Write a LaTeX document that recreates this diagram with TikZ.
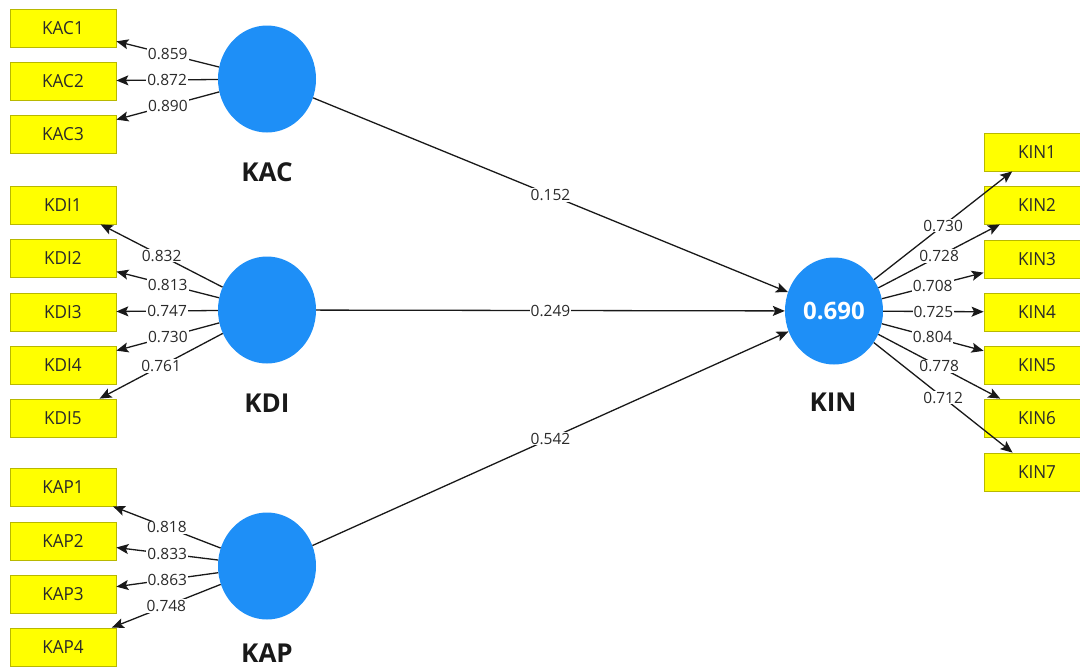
\documentclass[tikz,border=0pt]{standalone}
\usepackage{fontspec}
\setmainfont{Open Sans}
\newfontfamily\boxfont[FakeStretch=0.95]{Open Sans}
\usetikzlibrary{shapes.geometric,arrows.meta}
\definecolor{lvblue}{HTML}{1E8FF7}
\definecolor{boxyellow}{HTML}{FFFF00}
\definecolor{boxedge}{HTML}{B8B800}
\definecolor{txt}{HTML}{2A2A2A}
\begin{document}
\begin{tikzpicture}[x=1pt,y=-1pt,
  ind/.style={draw=boxedge, fill=boxyellow, line width=0.8pt, minimum width=106pt, minimum height=38pt, inner sep=0pt, font=\boxfont\fontsize{18}{20}\selectfont, text=txt},
  lv/.style={ellipse, fill=lvblue, minimum width=98pt, minimum height=107pt, inner sep=0pt},
  lvname/.style={font=\bfseries\fontsize{26}{28}\selectfont, text=black!90},
  lnk/.style={line width=1.3pt, draw=black!90, -{Stealth[length=12pt,width=10pt,inset=2.5pt]}},
  val/.style={midway, fill=white, inner sep=1pt, font=\fontsize{15.5}{17}\selectfont, text=txt}
]
\fill[white] (0,0) rectangle (1080,670);
\useasboundingbox (0,0) rectangle (1080,670);

% latent variables
\node[lv] (kac) at (267,79) {};
\node[lv] (kdi) at (267,310) {};
\node[lv] (kap) at (267,566) {};
\node[lv, text=white, font=\bfseries\fontsize{24}{26}\selectfont] (kin) at (834,311) {0.690};

\node[lvname] (kacl) at (267,172) {KAC};
\node[lvname] (kdil) at (267,403) {KDI};
\node[lvname] (kapl) at (267,653) {KAP};
\node[lvname] (kinl) at (833,402) {KIN};

% indicators
\node[ind] (kac1) at (63,28) {KAC1};
\node[ind] (kac2) at (63,81) {KAC2};
\node[ind] (kac3) at (63,134) {KAC3};

\node[ind] (kdi1) at (63,205) {KDI1};
\node[ind] (kdi2) at (63,258) {KDI2};
\node[ind] (kdi3) at (63,312) {KDI3};
\node[ind] (kdi4) at (63,365) {KDI4};
\node[ind] (kdi5) at (63,418) {KDI5};

\node[ind] (kap1) at (63,487) {KAP1};
\node[ind] (kap2) at (63,541) {KAP2};
\node[ind] (kap3) at (63,594) {KAP3};
\node[ind] (kap4) at (63,647) {KAP4};

\node[ind] (kin1) at (1037,152) {KIN1};
\node[ind] (kin2) at (1037,205) {KIN2};
\node[ind] (kin3) at (1037,259) {KIN3};
\node[ind] (kin4) at (1037,312) {KIN4};
\node[ind] (kin5) at (1037,365) {KIN5};
\node[ind] (kin6) at (1037,418) {KIN6};
\node[ind] (kin7) at (1037,472) {KIN7};

% loadings
\draw[lnk] (kac) -- node[val]{0.859} (kac1);
\draw[lnk] (kac) -- node[val]{0.872} (kac2);
\draw[lnk] (kac) -- node[val]{0.890} (kac3);

\draw[lnk] (kdi) -- node[val]{0.832} (kdi1);
\draw[lnk] (kdi) -- node[val]{0.813} (kdi2);
\draw[lnk] (kdi) -- node[val]{0.747} (kdi3);
\draw[lnk] (kdi) -- node[val]{0.730} (kdi4);
\draw[lnk] (kdi) -- node[val]{0.761} (kdi5);

\draw[lnk] (kap) -- node[val]{0.818} (kap1);
\draw[lnk] (kap) -- node[val]{0.833} (kap2);
\draw[lnk] (kap) -- node[val]{0.863} (kap3);
\draw[lnk] (kap) -- node[val]{0.748} (kap4);

\draw[lnk] (kin) -- node[val]{0.730} (kin1);
\draw[lnk] (kin) -- node[val]{0.728} (kin2);
\draw[lnk] (kin) -- node[val]{0.708} (kin3);
\draw[lnk] (kin) -- node[val]{0.725} (kin4);
\draw[lnk] (kin) -- node[val]{0.804} (kin5);
\draw[lnk] (kin) -- node[val]{0.778} (kin6);
\draw[lnk] (kin) -- node[val]{0.712} (kin7);

% paths
\draw[lnk] (kac) -- node[val]{0.152} (kin);
\draw[lnk] (kdi) -- node[val]{0.249} (kin);
\draw[lnk] (kap) -- node[val]{0.542} (kin);
\end{tikzpicture}
\end{document}
